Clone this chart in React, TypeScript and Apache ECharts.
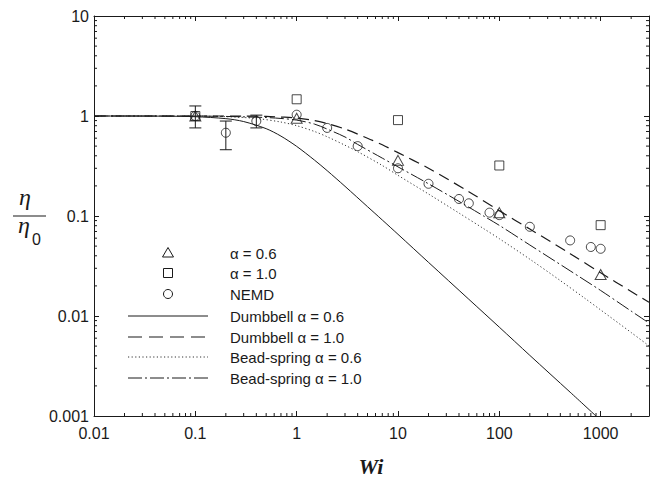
import React, { useEffect, useRef } from "react";
import * as echarts from "echarts";

// ---------- data ----------
const xTickLabels = ["0.01", "0.1", "1", "10", "100", "1000"];
const yTickLabels = ["0.001", "0.01", "0.1", "1", "10"];

// symbols
const triWi = [0.1, 1, 10, 100, 1000];
const triEta = [1.0, 0.95, 0.36, 0.108, 0.026];
const sqWi = [0.1, 1, 10, 100, 1000];
const sqEta = [1.0, 1.47, 0.91, 0.32, 0.081];
const nemdWi = [0.1, 0.2, 0.4, 1, 2, 4, 10, 20, 40, 50, 80, 100, 200, 500, 800, 1000];
const nemdEta = [1.0, 0.68, 0.89, 1.03, 0.76, 0.5, 0.3, 0.21, 0.148, 0.134, 0.108, 0.102, 0.078, 0.057, 0.049, 0.047];
// NEMD error bars
const errWi = [0.1, 0.2, 0.4];
const errLo = [0.76, 0.46, 0.76];
const errHi = [1.26, 0.89, 1.02];

// model curves
const dumb06Wi = [0.01, 0.05, 0.1, 0.2, 0.3, 0.5, 0.7, 1, 1.5, 2, 3, 5, 7, 10, 20, 50, 100, 200, 500, 900];
const dumb06Eta = [1, 0.996, 0.984, 0.941, 0.88, 0.747, 0.629, 0.497, 0.362, 0.284, 0.198, 0.124, 0.0912, 0.0656, 0.0344, 0.0147, 0.00773, 0.00404, 0.00173, 0.001];
const dumb10Wi = [0.01, 0.1, 0.3, 0.5, 0.7, 1, 1.5, 2, 3, 5, 7, 10, 20, 50, 100, 200, 500, 1000, 2000, 3000];
const dumb10Eta = [1, 1, 0.998, 0.99, 0.976, 0.955, 0.9, 0.84, 0.74, 0.6, 0.515, 0.43, 0.3, 0.175, 0.113, 0.074, 0.042, 0.027, 0.0176, 0.0137];
const bead06Wi = [0.01, 0.1, 0.2, 0.4, 0.7, 1, 1.5, 2, 3, 4, 7, 10, 20, 40, 70, 100, 200, 400, 700, 1000, 2000, 3000];
const bead06Eta = [1, 0.997, 0.985, 0.945, 0.87, 0.8, 0.7, 0.62, 0.51, 0.44, 0.32, 0.255, 0.166, 0.107, 0.0748, 0.0593, 0.037, 0.0226, 0.015, 0.0115, 0.00684, 0.00503];
const bead10Wi = [0.01, 0.1, 0.2, 0.5, 0.7, 1, 1.5, 2, 3, 4, 7, 10, 20, 40, 70, 100, 200, 500, 1000, 2000, 3000];
const bead10Eta = [1, 0.998, 0.99, 0.965, 0.945, 0.91, 0.83, 0.74, 0.617, 0.52, 0.379, 0.31, 0.21, 0.14, 0.1, 0.0806, 0.0513, 0.0283, 0.018, 0.0112, 0.0085];

const legendLabels = [
  "\u03b1 = 0.6",
  "\u03b1 = 1.0",
  "NEMD",
  "Dumbbell \u03b1 = 0.6",
  "Dumbbell \u03b1 = 1.0",
  "Bead-spring \u03b1 = 0.6",
  "Bead-spring \u03b1 = 1.0",
];

// ---------- helpers ----------
const X_MIN = 0.01, X_MAX = 3000, Y_MIN = 0.001, Y_MAX = 10;
const pairs = (xs: number[], ys: number[]) => xs.map((x, i) => [x, ys[i]]);
const INK = "#1a1a1a";
const SANS = "'Liberation Sans', Arial, Helvetica, sans-serif";
const SERIF = "'Liberation Serif', 'Times New Roman', serif";

const minorVals = (lo: number, hi: number) => {
  const out: number[] = [];
  for (let e = Math.floor(Math.log10(lo)); e <= Math.ceil(Math.log10(hi)); e++) {
    for (let m = 2; m <= 9; m++) {
      const v = m * Math.pow(10, e);
      if (v > lo && v < hi) out.push(v);
    }
  }
  return out;
};
const xMinor = minorVals(X_MIN, X_MAX);
const yMinor = minorVals(Y_MIN, Y_MAX);

const powLabel = (labels: string[], minExp: number) => (v: number) => {
  const l = Math.log10(v);
  const e = Math.round(l);
  if (Math.abs(l - e) > 1e-6) return "";
  return labels[e - minExp] ?? "";
};

const lineLeg = { x1: 128, x2: 208 };
const rowsY = [253, 273, 294, 316, 337, 357, 378];

export default function App() {
  const ref = useRef<HTMLDivElement>(null);
  useEffect(() => {
    if (!ref.current) return;
    const chart = echarts.init(ref.current, undefined, { renderer: "svg" });
    const axisCommon = {
      type: "log" as const,
      logBase: 10,
      splitLine: { show: false },
      axisLine: { show: true, onZero: false, lineStyle: { color: INK, width: 1 } },
      axisTick: { show: true, inside: true, length: 5, lineStyle: { color: INK, width: 1 } },
    };
    const option: any = {
      animation: false,
      backgroundColor: "#ffffff",
      grid: { left: 94, right: 7, top: 16, bottom: 67, containLabel: false },
      xAxis: [
        {
          ...axisCommon,
          position: "bottom",
          min: X_MIN,
          max: X_MAX,
          axisLabel: {
            formatter: powLabel(xTickLabels, -2),
            fontSize: 16,
            fontFamily: SANS,
            color: INK,
            margin: 9,
            showMaxLabel: true,
            showMinLabel: true,
          },
        },
        {
          ...axisCommon,
          position: "top",
          min: X_MIN,
          max: X_MAX,
          axisLabel: { show: false },
        },
      ],
      yAxis: [
        {
          ...axisCommon,
          position: "left",
          min: Y_MIN,
          max: Y_MAX,
          axisLabel: {
            formatter: powLabel(yTickLabels, -3),
            fontSize: 16,
            fontFamily: SANS,
            color: INK,
            margin: 5,
          },
        },
        {
          ...axisCommon,
          position: "right",
          min: Y_MIN,
          max: Y_MAX,
          axisLabel: { show: false },
        },
      ],
      series: [
        {
          type: "custom",
          name: "xminor",
          silent: true,
          clip: false,
          data: xMinor.map((v) => [v, 1]),
          renderItem: (_p: any, api: any) => {
            const v = api.value(0);
            const b = api.coord([v, Y_MIN]);
            const t = api.coord([v, Y_MAX]);
            return {
              type: "group",
              children: [
                { type: "line", shape: { x1: b[0], y1: b[1], x2: b[0], y2: b[1] - 3 }, style: { stroke: INK, lineWidth: 1 } },
                { type: "line", shape: { x1: t[0], y1: t[1], x2: t[0], y2: t[1] + 3 }, style: { stroke: INK, lineWidth: 1 } },
              ],
            };
          },
        },
        {
          type: "custom",
          name: "yminor",
          silent: true,
          clip: false,
          data: yMinor.map((v) => [1, v]),
          renderItem: (_p: any, api: any) => {
            const v = api.value(1);
            const l = api.coord([X_MIN, v]);
            const r = api.coord([X_MAX, v]);
            return {
              type: "group",
              children: [
                { type: "line", shape: { x1: l[0], y1: l[1], x2: l[0] + 3, y2: l[1] }, style: { stroke: INK, lineWidth: 1 } },
                { type: "line", shape: { x1: r[0], y1: r[1], x2: r[0] - 3, y2: r[1] }, style: { stroke: INK, lineWidth: 1 } },
              ],
            };
          },
        },
        {
          type: "line",
          name: "Dumbbell 0.6",
          data: pairs(dumb06Wi, dumb06Eta),
          smooth: 0.3,
          symbol: "none",
          lineStyle: { color: INK, width: 1 },
        },
        {
          type: "line",
          name: "Dumbbell 1.0",
          data: pairs(dumb10Wi, dumb10Eta),
          smooth: 0.3,
          symbol: "none",
          lineStyle: { color: INK, width: 1.2, type: [11, 6] },
        },
        {
          type: "line",
          name: "Bead 0.6",
          data: pairs(bead06Wi, bead06Eta),
          smooth: 0.3,
          symbol: "none",
          lineStyle: { color: "#333", width: 1, type: [1.2, 2.4] },
        },
        {
          type: "line",
          name: "Bead 1.0",
          data: pairs(bead10Wi, bead10Eta),
          smooth: 0.3,
          symbol: "none",
          lineStyle: { color: INK, width: 1, type: [14, 3, 2, 3] },
        },
        {
          type: "custom",
          name: "err",
          silent: true,
          data: errWi.map((w, i) => [w, errLo[i], errHi[i]]),
          encode: { x: 0, y: [1, 2] },
          renderItem: (_p: any, api: any) => {
            const x = api.value(0);
            const lo = api.coord([x, api.value(1)]);
            const hi = api.coord([x, api.value(2)]);
            const hw = 6;
            const st = { stroke: INK, lineWidth: 1 };
            return {
              type: "group",
              children: [
                { type: "line", shape: { x1: lo[0], y1: lo[1], x2: hi[0], y2: hi[1] }, style: st },
                { type: "line", shape: { x1: lo[0] - hw, y1: lo[1], x2: lo[0] + hw, y2: lo[1] }, style: st },
                { type: "line", shape: { x1: hi[0] - hw, y1: hi[1], x2: hi[0] + hw, y2: hi[1] }, style: st },
              ],
            };
          },
        },
        {
          type: "scatter",
          name: "tri",
          data: pairs(triWi, triEta),
          symbol: "triangle",
          symbolSize: [11, 10],
          itemStyle: { color: "rgba(0,0,0,0)", borderColor: INK, borderWidth: 1 },
        },
        {
          type: "scatter",
          name: "sq",
          data: pairs(sqWi, sqEta),
          symbol: "rect",
          symbolSize: 9,
          itemStyle: { color: "rgba(0,0,0,0)", borderColor: INK, borderWidth: 1 },
        },
        {
          type: "scatter",
          name: "nemd",
          data: pairs(nemdWi, nemdEta),
          symbol: "circle",
          symbolSize: 9,
          itemStyle: { color: "rgba(0,0,0,0)", borderColor: INK, borderWidth: 1 },
        },
      ],
      graphic: [
        // y-axis title: eta / eta_0
        { type: "text", left: 19, top: 185, style: { text: "\u03b7", font: `italic 24px ${SERIF}`, fill: INK } },
        { type: "line", shape: { x1: 13, y1: 216, x2: 46, y2: 216 }, style: { stroke: INK, lineWidth: 1.2 } },
        { type: "text", left: 18, top: 213, style: { text: "\u03b7", font: `italic 24px ${SERIF}`, fill: INK } },
        { type: "text", left: 32, top: 231, style: { text: "0", font: `16px ${SANS}`, fill: INK } },
        // x-axis title
        { type: "text", x: 371, y: 466, style: { text: "Wi", font: `italic bold 22px ${SERIF}`, fill: INK, align: "center", verticalAlign: "middle" } },
        // legend symbols
        {
          type: "polygon",
          shape: { points: [[168, rowsY[0] - 5.5], [173.5, rowsY[0] + 4], [162.5, rowsY[0] + 4]] },
          style: { fill: "none", stroke: INK, lineWidth: 1 },
        },
        { type: "rect", shape: { x: 163.5, y: rowsY[1] - 4.5, width: 9, height: 9 }, style: { fill: "none", stroke: INK, lineWidth: 1 } },
        { type: "circle", shape: { cx: 168, cy: rowsY[2], r: 4.5 }, style: { fill: "none", stroke: INK, lineWidth: 1 } },
        // legend lines
        { type: "line", shape: { x1: lineLeg.x1, y1: rowsY[3], x2: lineLeg.x2, y2: rowsY[3] }, style: { stroke: INK, lineWidth: 1 } },
        { type: "line", shape: { x1: lineLeg.x1, y1: rowsY[4], x2: lineLeg.x2, y2: rowsY[4] }, style: { stroke: INK, lineWidth: 1.2, lineDash: [14, 7] } },
        { type: "line", shape: { x1: lineLeg.x1, y1: rowsY[5], x2: lineLeg.x2, y2: rowsY[5] }, style: { stroke: "#333", lineWidth: 1, lineDash: [1.2, 2.4] } },
        { type: "line", shape: { x1: lineLeg.x1, y1: rowsY[6], x2: lineLeg.x2, y2: rowsY[6] }, style: { stroke: INK, lineWidth: 1, lineDash: [14, 3, 2, 3] } },
        // legend texts
        ...legendLabels.map((t, i) => ({
          type: "text",
          x: 230,
          y: rowsY[i],
          style: { text: t, font: `15px ${SANS}`, fill: INK, verticalAlign: "middle", align: "left" },
        })),
      ],
    };
    chart.setOption(option);
    return () => chart.dispose();
  }, []);
  return (
    <div
      ref={ref}
      style={{ position: "fixed", left: 0, top: 0, width: 656, height: 483, background: "#fff" }}
    />
  );
}
